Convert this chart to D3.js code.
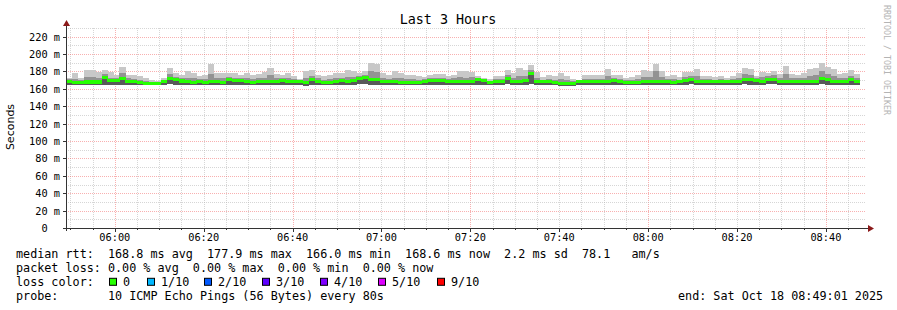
<!DOCTYPE html>
<html>
<head>
<meta charset="utf-8">
<script src="https://cdn.jsdelivr.net/npm/d3@7"></script>
<style>
  body { margin: 0; background: #fff; }
  svg { display: block; }
  text { font-family: "DejaVu Sans Mono", monospace; fill: #000; }
</style>
</head>
<body>
<div id="chart"></div>
<script>
// ---- data (ms), one value per 80 s step ----
const startTime = new Date(2025, 9, 18, 5, 49, 1),
    endTime = new Date(2025, 9, 18, 8, 49, 1),
    stepSeconds = 80;

const median = [168.8,167,167,168,168,168,173.5,169.6,169.6,171.5,
    168.8,168.1,167.3,166.2,166.2,166.2,168.1,171.9,171.2,169,
    168.1,167.3,168.1,167.7,168.8,168.1,167.3,170.4,170,170,
    168.1,167.3,168.1,168.1,168.8,168.1,169.6,168.1,168.1,168.8,
    166.9,170.4,168.1,167.3,167.7,168.8,169.6,168.1,169.6,171.9,
    172.7,170.4,170.4,168.1,168.1,168.1,167.3,167.7,167.3,166.9,
    168.8,169.6,169.6,169.6,168.8,168.1,168.8,168.1,168.8,170.4,
    169.6,167.3,168.1,168.8,171.5,168.8,168.1,169.6,177.9,168.8,
    168.1,168.1,167.3,166.5,166.5,166,168.1,168.8,168.1,168.8,
    168.1,168.1,169.6,168.8,167.7,167.3,167.3,168.1,168.1,168.1,
    168.8,168.1,167.3,168.1,169.6,171.2,168.1,168.1,168.8,168.1,
    168.1,168.1,168.8,168.8,171.2,170.4,169.6,168.8,171.2,171.2,
    168.8,168.8,168.1,168.8,168.8,168.1,168.8,171.9,170.4,168.8,
    168.1,168.8,170.4,168.6];

const pingMax = [173,177.7,172.7,181.5,181.2,179.2,182,179.2,176,185,
    176.5,176.5,174.6,172.7,170.5,168.5,172.7,184.2,178.5,175.8,
    180.4,178.5,174.6,176.5,189,178.5,178.5,178.8,178.5,176.5,
    178.5,175.8,177.3,179.2,184.2,177.3,176.5,178.5,174.6,170.8,
    180.4,181.9,176.5,174.6,175.8,178.5,178.5,181.9,180.4,178.5,
    180.4,190,188.1,178.5,176.5,180.4,178.5,175.8,175.8,174.6,
    173.5,176.5,177.3,177.3,174.6,176.5,180.4,180.4,179.6,174.6,
    172.7,171.9,174.6,174.6,181.2,178.5,184.2,181.9,187.3,179.6,
    173.5,176.5,174.6,178.5,174.6,171.9,169.6,175.8,176.5,175.8,
    176.5,182.3,175.8,175.8,172.7,173.5,175.8,181.2,180.4,188.1,
    180.4,174.6,175.8,173.5,179.6,179.6,182.3,174.6,174.6,173.5,
    174.6,172.7,174.6,178.5,183.5,182.3,174.6,179.6,178.5,180.4,
    177.3,186.2,177.3,176.5,178.5,182.3,183.5,190,185,182.3,
    177.3,178.5,181.2,177.3];

const pingHi = [171,171,170,174,174,173,177,173,172,178,
    172,171,170,169,168,167.5,170,177,174,172,
    173,172,171,171,177,172,172,174,173,172,
    172,171,172,173,176,172,172,173,171,170,
    172,175,172,170,171,173,173,174,174,175,
    176,180,179,172,171,173,172,171,171,170,
    171,172,173,173,171,172,174,173,174,172,
    171,169,171,171,176,173,175,175,182,173,
    170,171,170,171,170,168.5,169,171,171,171,
    171,175,172,171,170,170,171,174,174,180,
    174,171,171,170,174,175,175,171,171,170,
    171,170,171,173,177,176,172,174,175,176,
    172,177,172,172,173,175,176,181,177,175,
    172,173,175,172];

const pingMin = [164.5,164,164,164.5,164,164.5,165,165,164.5,165,
    164.5,164,164,164,164,164,164.5,165.5,165,164.5,
    164,164,164.5,164,164.5,164,164,165,164.5,165,
    164,164,164,164.5,164.5,164,165,164,164.5,165,
    163.5,165,164,164,164,164.5,165,164.5,165,165.5,
    166,165,165,164,164.5,164,164,164,164,164,
    164.5,165,165,165,164.5,164,164.5,164,164.5,165,
    165,164,164,164.5,165.5,164.5,164,165,166,164.5,
    164,164,164,163.5,163.5,163.5,164.5,164.5,164,164.5,
    164,164,165,164.5,164,164,164,164,164,164,
    164.5,164,164,164,165,165.5,164,164,164.5,164,
    164,164,164.5,164.5,165.5,165,165,164.5,165.5,165.5,
    164.5,164.5,164,164.5,164.5,164,164.5,165.5,165,164.5,
    164,164.5,165,164.5];

const yTicks = [0, 20, 40, 60, 80, 100, 120, 140, 160, 180, 200, 220];

const lossColors = ["#26ff00", "#00b8ff", "#0059ff", "#5e00ff", "#7e00ff", "#dd00ff", "#ff0000"];
const lossLabels = ["0", "1/10", "2/10", "3/10", "4/10", "5/10", "9/10"];

const legendRtt = "median rtt:  168.8 ms avg  177.9 ms max  166.0 ms min  168.6 ms now  2.2 ms sd  78.1   am/s";
const legendLoss = "packet loss: 0.00 % avg  0.00 % max  0.00 % min  0.00 % now";
const legendProbe = "probe:       10 ICMP Echo Pings (56 Bytes) every 80s";
const legendEnd = "end: Sat Oct 18 08:49:01 2025";

// keep runs of spaces (monospace columns)
const keepSpaces = s => s.replace(/ /g, "\u00a0");

// ---- layout ----
const width = 897, height = 310,
    margin = { top: 28, left: 66, bottom: 82 },
    plotRight = 866,
    plotBottom = height - margin.bottom;

const svg = d3.select("#chart").append("svg")
    .attr("width", width)
    .attr("height", height);

const xScale = d3.scaleTime()
    .domain([startTime, endTime])
    .range([margin.left, plotRight]);

const yScale = d3.scaleLinear()
    .domain([0, 230])
    .range([plotBottom, margin.top]);

const steps = median.map((m, i) => ({
    t0: new Date(+startTime + i * stepSeconds * 1000),
    t1: new Date(+startTime + (i + 1) * stepSeconds * 1000),
    med: m, min: pingMin[i], hi: pingHi[i], max: pingMax[i]
}));

// ---- grid ----
const minorColor = "rgba(180,180,180,0.55)",
    majorColor = "rgba(240,80,80,0.45)";
const grid = svg.append("g").attr("class", "grid");
const minorTimes = d3.timeMinute.every(5).range(startTime, endTime);
const isMajor = t => (t.getHours() * 60 + t.getMinutes()) % 40 === 0;

grid.selectAll("line.v")
    .data(minorTimes)
    .join("line")
    .attr("x1", d => Math.round(xScale(d)) + 0.5)
    .attr("x2", d => Math.round(xScale(d)) + 0.5)
    .attr("y1", margin.top)
    .attr("y2", plotBottom)
    .attr("stroke", d => isMajor(d) ? majorColor : minorColor)
    .attr("stroke-dasharray", "1,1");

grid.selectAll("line.h")
    .data(d3.range(10, 231, 10))
    .join("line")
    .attr("x1", margin.left)
    .attr("x2", plotRight)
    .attr("y1", d => Math.round(yScale(d)) + 0.5)
    .attr("y2", d => Math.round(yScale(d)) + 0.5)
    .attr("stroke", d => (d % 20 === 0 && d <= 220) ? majorColor : minorColor)
    .attr("stroke-dasharray", "1,1");

// ---- smoke ----
const smoke = svg.append("g").attr("shape-rendering", "crispEdges");
const bx = d => xScale(d.t0), bw = d => xScale(d.t1) - xScale(d.t0) + 0.3;

smoke.selectAll("rect.outer").data(steps).join("rect")
    .attr("x", bx).attr("width", bw)
    .attr("y", d => yScale(d.max))
    .attr("height", d => yScale(d.min) - yScale(d.max))
    .attr("fill", "#c8c8c8");

smoke.selectAll("rect.upper").data(steps).join("rect")
    .attr("x", bx).attr("width", bw)
    .attr("y", d => yScale(d.hi))
    .attr("height", d => yScale(d.med) - yScale(d.hi))
    .attr("fill", "#939393");

smoke.selectAll("rect.lower").data(steps).join("rect")
    .attr("x", bx).attr("width", bw)
    .attr("y", d => yScale(d.med))
    .attr("height", d => yScale(d.min) - yScale(d.med))
    .attr("fill", "#5a5a5a");

// median, coloured by loss (all 0 here)
smoke.selectAll("rect.median").data(steps).join("rect")
    .attr("x", bx).attr("width", bw)
    .attr("y", d => yScale(d.med) - 1.6)
    .attr("height", 3.2)
    .attr("fill", lossColors[0]);

// ---- axes ----
const axisColor = "#333";
const arrowColor = "#8b1a1a";

svg.append("line")
    .attr("x1", margin.left - 3).attr("x2", plotRight + 3)
    .attr("y1", plotBottom + 0.5).attr("y2", plotBottom + 0.5)
    .attr("stroke", axisColor);
svg.append("path")
    .attr("d", `M${plotRight + 2},${plotBottom - 3} L${plotRight + 8},${plotBottom + 0.5} L${plotRight + 2},${plotBottom + 4} Z`)
    .attr("fill", arrowColor);

svg.append("line")
    .attr("x1", margin.left + 0.5).attr("x2", margin.left + 0.5)
    .attr("y1", plotBottom + 3).attr("y2", margin.top - 2)
    .attr("stroke", axisColor);
svg.append("path")
    .attr("d", `M${margin.left - 3},${margin.top - 2} L${margin.left + 0.5},${margin.top - 8} L${margin.left + 4},${margin.top - 2} Z`)
    .attr("fill", arrowColor);

// x ticks
svg.selectAll("line.xtick").data(minorTimes).join("line")
    .attr("x1", d => Math.round(xScale(d)) + 0.5)
    .attr("x2", d => Math.round(xScale(d)) + 0.5)
    .attr("y1", plotBottom)
    .attr("y2", d => plotBottom + (d.getMinutes() % 20 === 0 ? 4 : 2))
    .attr("stroke", axisColor);

const xLabelTimes = d3.timeMinute.every(20).range(startTime, endTime);
svg.selectAll("text.xlab").data(xLabelTimes).join("text")
    .attr("x", d => xScale(d))
    .attr("y", plotBottom + 13)
    .attr("text-anchor", "middle")
    .attr("font-size", "10.3px")
    .text(d => d3.timeFormat("%H:%M")(d));

// y ticks
svg.selectAll("line.ytick").data(yTicks.filter(v => v > 0)).join("line")
    .attr("x1", margin.left - 3).attr("x2", margin.left)
    .attr("y1", d => Math.round(yScale(d)) + 0.5)
    .attr("y2", d => Math.round(yScale(d)) + 0.5)
    .attr("stroke", axisColor);

svg.selectAll("text.ylab").data(yTicks).join("text")
    .attr("x", 60)
    .attr("y", d => yScale(d) + 4)
    .attr("text-anchor", "end")
    .attr("font-size", "10.3px")
    .text(d => keepSpaces(d === 0 ? "0  " : `${d} m`));

svg.append("text")
    .attr("transform", "translate(14,127) rotate(-90)")
    .attr("text-anchor", "middle")
    .style("font-family", "'DejaVu Sans', sans-serif")
    .attr("font-size", "11px")
    .text("Seconds");

// title
svg.append("text")
    .attr("x", 448).attr("y", 24)
    .attr("text-anchor", "middle")
    .attr("font-size", "13.4px")
    .text("Last 3 Hours");

// watermark
svg.append("text")
    .attr("transform", "translate(884,5) rotate(90)")
    .attr("font-size", "8.3px")
    .style("fill", "#b4b4b4")
    .text("RRDTOOL / TOBI OETIKER");

// ---- legend ----
const legend = svg.append("g").attr("font-size", "11.75px");
const rows = [258, 272, 285.8, 299.6];

legend.append("text").attr("x", 16).attr("y", rows[0]).text(keepSpaces(legendRtt));
legend.append("text").attr("x", 16).attr("y", rows[1]).text(keepSpaces(legendLoss));

legend.append("text").attr("x", 16).attr("y", rows[2]).text(keepSpaces("loss color:"));
const boxX = [109, 147, 204, 262, 320, 378, 437];
legend.selectAll("rect.lc").data(lossColors).join("rect")
    .attr("x", (d, i) => boxX[i] + 0.5).attr("y", rows[2] - 7.5)
    .attr("width", 7).attr("height", 7)
    .attr("fill", d => d)
    .attr("stroke", "#000").attr("stroke-width", 1);
legend.selectAll("text.lcl").data(lossLabels).join("text")
    .attr("x", (d, i) => boxX[i] + 14).attr("y", rows[2]).text(d => d);

legend.append("text").attr("x", 16).attr("y", rows[3]).text(keepSpaces(legendProbe));
legend.append("text").attr("x", 678).attr("y", rows[3]).text(keepSpaces(legendEnd));
</script>
</body>
</html>
